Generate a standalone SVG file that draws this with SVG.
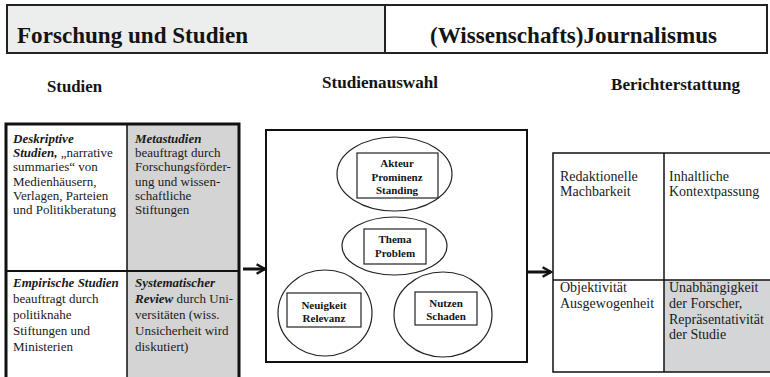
<svg xmlns="http://www.w3.org/2000/svg" width="770" height="377" viewBox="0 0 770 377">
<defs>
<style>
.hd{font-family:"Liberation Serif",serif;font-weight:bold;font-size:23px;fill:#141414}
.sub{font-family:"Liberation Serif",serif;font-weight:bold;font-size:17px;fill:#141414}
.lt{font-family:"Liberation Serif",serif;font-size:13px;fill:#1a1a1a}
.rt{font-family:"Liberation Serif",serif;font-size:14px;fill:#1a1a1a}
.bi{font-weight:bold;font-style:italic}
.el{font-family:"Liberation Serif",serif;font-weight:bold;font-size:11px;fill:#141414;text-anchor:middle}
.ln{fill:none;stroke:#111}
</style>
<marker id="ah" viewBox="0 0 10 10" refX="8" refY="5" markerWidth="4" markerHeight="4" orient="auto" markerUnits="strokeWidth">
<path d="M1,1 L8,5 L1,9" fill="none" stroke="#111" stroke-width="2"/>
</marker>
</defs>
<rect width="770" height="377" fill="#fff"/>

<g id="header-left">
<rect x="7" y="5" width="378" height="48" fill="#eceeee" stroke="#222" stroke-width="2"/>
<text class="hd" x="17" y="43" textLength="231" lengthAdjust="spacingAndGlyphs">Forschung und Studien</text>
</g>
<g id="header-right">
<rect x="385" y="5" width="382" height="48" fill="#fff" stroke="#222" stroke-width="2"/>
<text class="hd" x="430" y="43" textLength="287" lengthAdjust="spacingAndGlyphs">(Wissenschafts)Journalismus</text>
</g>

<g id="titles">
<text class="sub" x="47" y="92" textLength="55" lengthAdjust="spacingAndGlyphs">Studien</text>
<text class="sub" x="322" y="88" textLength="116" lengthAdjust="spacingAndGlyphs">Studienauswahl</text>
<text class="sub" x="611" y="90" textLength="129" lengthAdjust="spacingAndGlyphs">Berichterstattung</text>
</g>

<g id="studien">
<rect x="127" y="125" width="112" height="252" fill="#d4d4d4"/>
<line class="ln" x1="127" y1="125" x2="127" y2="377" stroke-width="1.5" stroke="#333"/>
<line class="ln" x1="6" y1="271" x2="239" y2="271" stroke-width="2"/>
<path class="ln" d="M6,377 V124 H239 V377" stroke-width="3"/>
<text class="lt" x="13"><tspan x="13" y="143" class="bi">Deskriptive</tspan><tspan x="13" y="157"><tspan class="bi">Studien,</tspan> „narrative</tspan><tspan x="13" y="171">summaries“ von</tspan><tspan x="13" y="186">Medienhäusern,</tspan><tspan x="13" y="200">Verlagen, Parteien</tspan><tspan x="13" y="214">und Politikberatung</tspan></text>
<text class="lt" x="135"><tspan x="135" y="143" class="bi">Metastudien</tspan><tspan x="135" y="157">beauftragt durch</tspan><tspan x="135" y="171">Forschungsförder-</tspan><tspan x="135" y="186">ung und wissen-</tspan><tspan x="135" y="200">schaftliche</tspan><tspan x="135" y="214">Stiftungen</tspan></text>
<text class="lt" x="13"><tspan x="13" y="287" class="bi">Empirische Studien</tspan><tspan x="13" y="303">beauftragt durch</tspan><tspan x="13" y="319">politiknahe</tspan><tspan x="13" y="335">Stiftungen und</tspan><tspan x="13" y="351">Ministerien</tspan></text>
<text class="lt" x="135"><tspan x="135" y="287" class="bi">Systematischer</tspan><tspan x="135" y="303"><tspan class="bi">Review</tspan> durch Uni-</tspan><tspan x="135" y="319">versitäten (wiss.</tspan><tspan x="135" y="335">Unsicherheit wird</tspan><tspan x="135" y="351">diskutiert)</tspan></text>
</g>

<g id="studienauswahl">
<rect x="266" y="130" width="261" height="232" fill="#fff" stroke="#111" stroke-width="2"/>
</g>
<g id="akteur">
<ellipse cx="394.5" cy="174" rx="57.5" ry="37" fill="none" stroke="#222" stroke-width="1.2"/>
<rect x="357" y="153" width="81" height="45" fill="#fff" stroke="#222" stroke-width="1.2"/>
<text class="el"><tspan x="397" y="167">Akteur</tspan><tspan x="397" y="181">Prominenz</tspan><tspan x="397" y="194">Standing</tspan></text>
</g>
<g id="thema">
<ellipse cx="394.5" cy="246" rx="52.5" ry="29" fill="none" stroke="#222" stroke-width="1.2"/>
<rect x="364" y="229" width="62" height="35" fill="#fff" stroke="#222" stroke-width="1.2"/>
<text class="el"><tspan x="395" y="243">Thema</tspan><tspan x="395" y="257">Problem</tspan></text>
</g>
<g id="neuigkeit">
<ellipse cx="325" cy="313" rx="47" ry="43" fill="none" stroke="#222" stroke-width="1.2"/>
<rect x="287" y="293" width="74" height="34" fill="#fff" stroke="#222" stroke-width="1.2"/>
<text class="el"><tspan x="324" y="309">Neuigkeit</tspan><tspan x="324" y="322">Relevanz</tspan></text>
</g>
<g id="nutzen">
<ellipse cx="443" cy="314.5" rx="49" ry="42.5" fill="none" stroke="#222" stroke-width="1.2"/>
<rect x="415" y="292" width="62" height="33" fill="#fff" stroke="#222" stroke-width="1.2"/>
<text class="el"><tspan x="446" y="307">Nutzen</tspan><tspan x="446" y="320">Schaden</tspan></text>
</g>

<g id="berichterstattung">
<rect x="664" y="280" width="110" height="92" fill="#d4d5d6"/>
<path class="ln" d="M772,153 H553 V372 H772" stroke-width="1.5"/>
<line class="ln" x1="664" y1="153" x2="664" y2="372" stroke-width="1.5"/>
<line class="ln" x1="553" y1="280" x2="772" y2="280" stroke-width="1.5"/>
<text class="rt"><tspan x="560" y="181">Redaktionelle</tspan><tspan x="560" y="196">Machbarkeit</tspan></text>
<text class="rt"><tspan x="669" y="181">Inhaltliche</tspan><tspan x="669" y="196">Kontextpassung</tspan></text>
<text class="rt"><tspan x="560" y="292">Objektivität</tspan><tspan x="560" y="308">Ausgewogenheit</tspan></text>
<text class="rt"><tspan x="669" y="292">Unabhängigkeit</tspan><tspan x="669" y="308">der Forscher,</tspan><tspan x="669" y="324">Repräsentativität</tspan><tspan x="669" y="339">der Studie</tspan></text>
</g>

<g id="connectors">
<line x1="243" y1="269" x2="265" y2="269" stroke="#111" stroke-width="3" marker-end="url(#ah)"/>
<line x1="528" y1="272" x2="551" y2="272" stroke="#111" stroke-width="3" marker-end="url(#ah)"/>
</g>
</svg>
